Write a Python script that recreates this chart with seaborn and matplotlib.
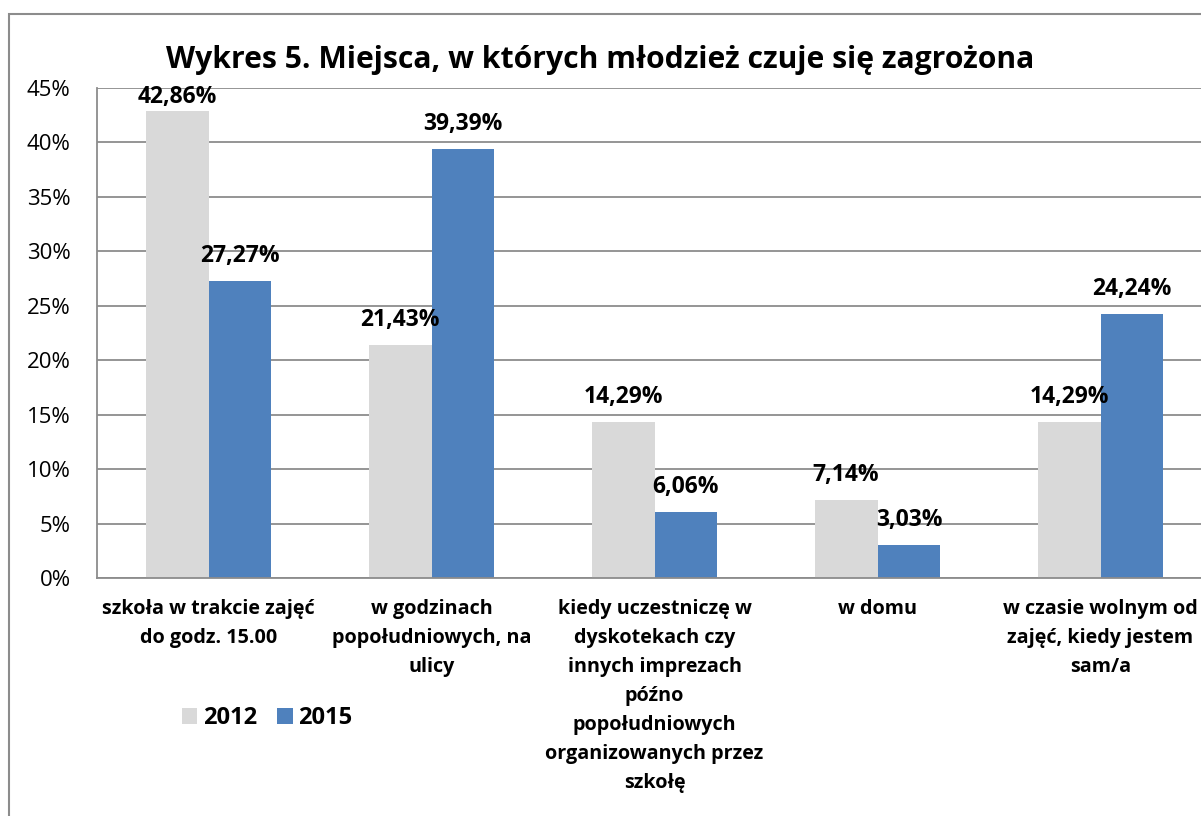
import matplotlib
matplotlib.use("Agg")
import matplotlib.pyplot as plt
import seaborn as sns
import pandas as pd
from matplotlib.patches import Rectangle, Patch

categories = [
    "szkoła w trakcie zajęć\ndo godz. 15.00",
    "w godzinach\npopołudniowych, na\nulicy",
    "kiedy uczestniczę w\ndyskotekach czy\ninnych imprezach\npóźno\npopołudniowych\norganizowanych przez\nszkołę",
    "w domu",
    "w czasie wolnym od\nzajęć, kiedy jestem\nsam/a",
]
years = ["2012", "2015"]
values_2012 = [42.86, 21.43, 14.29, 7.14, 14.29]
values_2015 = [27.27, 39.39, 6.06, 3.03, 24.24]
y_ticks = [0, 5, 10, 15, 20, 25, 30, 35, 40, 45]
title = "Wykres 5. Miejsca, w których młodzież czuje się zagrożona"

colors = {"2012": "#d9d9d9", "2015": "#4f81bd"}

df = pd.DataFrame({
    "category": categories * 2,
    "year": ["2012"] * len(categories) + ["2015"] * len(categories),
    "value": values_2012 + values_2015,
})

sns.set_style("white")
plt.rcParams["font.family"] = ["Open Sans", "DejaVu Sans"]
plt.rcParams["text.color"] = "black"
plt.rcParams["xtick.color"] = "black"
plt.rcParams["ytick.color"] = "black"

fig = plt.figure(figsize=(12.01, 8.16), dpi=100)
ax = fig.add_axes([97 / 1201, 1 - 578 / 816, 1115 / 1201, 490 / 816])

sns.barplot(data=df, x="category", y="value", hue="year", order=categories,
            hue_order=years, palette=colors, width=0.565, saturation=1,
            ax=ax, legend=False, linewidth=0)

ax.set_ylim(0, 45)
ax.set_xlim(-0.5, len(categories) - 0.5)
ax.set_yticks(y_ticks)
ax.set_yticklabels([f"{t}%" for t in y_ticks], fontsize=16)
ax.set_xlabel("")
ax.set_ylabel("")
ax.tick_params(axis="both", length=0)
ax.tick_params(axis="y", pad=19)
ax.tick_params(axis="x", pad=15)
ax.set_xticks(range(len(categories)))
ax.set_xticklabels(categories, fontsize=14.2, fontweight="bold", linespacing=1.6, va="top")
ax.yaxis.grid(True, color="#8c8c8c", linewidth=1.3)
ax.set_axisbelow(True)
for side in ["top", "right"]:
    ax.spines[side].set_visible(False)
for side in ["left", "bottom"]:
    ax.spines[side].set_color("#8c8c8c")
    ax.spines[side].set_linewidth(1.3)

for container in ax.containers:
    for bar in container:
        h = bar.get_height()
        x = bar.get_x() + bar.get_width() / 2
        ytxt = min(h + 2.3, 44.2)
        ax.text(x, ytxt, f"{h:.2f}%".replace(".", ","), ha="center", va="center",
                fontsize=16.5, fontweight="bold", clip_on=False)

fig.text(600 / 1201, 1 - 60 / 816, title, ha="center", va="center",
         fontsize=21.7, fontweight="bold")

handles = [Patch(facecolor=colors[y], edgecolor="none") for y in years]
fig.legend(handles, years, loc="center left",
           bbox_to_anchor=(161 / 1201, 1 - 718 / 816), ncol=2, frameon=False,
           prop={"size": 17, "weight": "bold"}, handlelength=0.64, handleheight=0.64,
           handletextpad=0.25, columnspacing=0.85)

fig.patches.append(Rectangle((9 / 1201, -0.1), 1.2, 1 - 14 / 816 + 0.1,
                             transform=fig.transFigure, fill=False,
                             edgecolor="#8c8c8c", linewidth=1.5))

fig.savefig("out.png", dpi=100)
